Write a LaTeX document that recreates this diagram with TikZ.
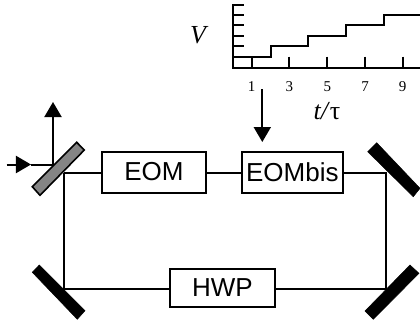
\documentclass[tikz,border=0pt]{standalone}
\usepackage{fontspec}
\setmainfont{Liberation Serif}
\newfontfamily\boxfont{Liberation Sans}
\usetikzlibrary{arrows.meta}
\tikzset{
  every picture/.style={x=1bp,y=-1bp},
  device/.style={draw,line width=2bp,fill=white,inner sep=0pt,font=\boxfont\fontsize{26bp}{28bp}\selectfont},
  beam/.style={line width=2bp},
  axisline/.style={line width=2bp},
  mirror/.style={fill=black,draw=black,line width=0.5bp},
  splitter/.style={fill=black!48,draw=black,line width=1.6bp},
  tipped/.style={line width=2bp,-{Triangle[length=15bp,width=17bp]}},
  ticklabel/.style={inner sep=0pt,font=\fontsize{15bp}{16bp}\selectfont},
  axislabel/.style={inner sep=0pt,font=\fontsize{26bp}{27bp}\selectfont\itshape}
}
\begin{document}
\begin{tikzpicture}
\useasboundingbox (0,0) rectangle (420,326);
\fill[white] (0,0) rectangle (420,326);
% beam points
\coordinate (bs) at (63.5,173);
\coordinate (m1) at (386,173);
\coordinate (m2) at (386,289);
\coordinate (m3) at (63.5,289);
\coordinate (hit) at (53,164.5);
\coordinate (in) at (6.5,164.5);
\coordinate (inmid) at (31,164.5);
\coordinate (out) at (53,102);
\coordinate (drop) at (262.3,89);
\coordinate (droptip) at (262.3,142);
% devices
\node[device,minimum width=104bp,minimum height=41bp] (eom) at (154,172) {EOM};
\node[device,minimum width=101.5bp,minimum height=41bp] (eombis) at (292.3,172) {EOMbis};
\node[device,minimum width=105bp,minimum height=38bp] (hwp) at (222.5,287.5) {HWP};
% beams
\draw[beam] (bs) -- (bs -| eom.west);
\draw[beam] (eom.east |- bs) -- (eombis.west |- bs);
\draw[beam] (eombis.east |- bs) -- (m1) -- (m2) -- (hwp.east |- m2);
\draw[beam] (hwp.west |- m3) -- (m3) -- (bs);
% mirrors
\draw[splitter] (76.7,142.3) -- (84.3,150) -- (40,195.3) -- (32.3,186.7) -- cycle;
\fill[mirror] (39.3,265) -- (32.3,272.3) -- (77.3,319.3) -- (85,310.7) -- cycle;
\fill[mirror] (376.7,142.7) -- (367.7,151.7) -- (413.3,196.7) -- (420,188.3) -- cycle;
\fill[mirror] (410,265) -- (419,273.3) -- (373.3,319.3) -- (365,311) -- cycle;
% input, output and control arrows
\draw[tipped] (in) -- (inmid);
\draw[beam] (inmid) -- (hit);
\draw[tipped] (hit) -- (out);
\draw[tipped] (drop) -- (droptip);
% chart
\draw[axisline] (232.7,4) -- (232.7,67.7) -- (420,67.7);
\foreach \yy in {4.7,15,25.3,35.7,46.3} \draw[axisline] (232.7,\yy) -- (244,\yy);
\foreach \xx in {251.7,289.3,327.3,365,402.7} \draw[axisline] (\xx,56.5) -- (\xx,67.7);
\draw[axisline] (232.7,56.7) -- (270.7,56.7) -- (270.7,46.3) -- (308.3,46.3) -- (308.3,35.7) -- (346,35.7) -- (346,25.3) -- (384,25.3) -- (384,14.7) -- (420,14.7);
\node[ticklabel] (n1) at (251.7,87) {1};
\node[ticklabel] (n3) at (289.3,87) {3};
\node[ticklabel] (n5) at (327.3,87) {5};
\node[ticklabel] (n7) at (365,87) {7};
\node[ticklabel] (n9) at (402.7,87) {9};
\node[axislabel] (vlab) at (198,35.5) {V};
\node[axislabel] (tlab) at (327,111) {t/\textup{τ}};
\end{tikzpicture}
\end{document}
